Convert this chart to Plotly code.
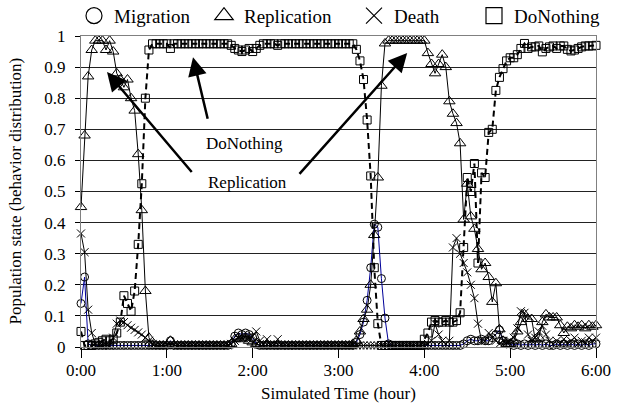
import plotly.graph_objects as go

# Sampling: one reading every 2.5 simulated minutes, 0:00 .. 6:00
step_min = 2.5
n_points = 145
time_h = [i * step_min / 60 for i in range(n_points)]

migration = [
    0.14, 0.225, 0.01, 0.005, 0.005, 0.005, 0.005, 0.005, 0.005, 0.005, 0.005, 0.005,
    0.005, 0.005, 0.005, 0.005, 0.005, 0.005, 0.005, 0.005, 0.005, 0.005, 0.005, 0.005,
    0.005, 0.02, 0.005, 0.005, 0.005, 0.005, 0.005, 0.005, 0.005, 0.005, 0.005, 0.005,
    0.005, 0.005, 0.005, 0.005, 0.005, 0.005, 0.01, 0.035, 0.045, 0.04, 0.045, 0.04,
    0.03, 0.01, 0.005, 0.005, 0.005, 0.005, 0.005, 0.005, 0.005, 0.005, 0.005, 0.005,
    0.005, 0.005, 0.005, 0.005, 0.005, 0.005, 0.005, 0.005, 0.005, 0.005, 0.005, 0.005,
    0.005, 0.005, 0.005, 0.005, 0.005, 0.015, 0.04, 0.08, 0.15, 0.255, 0.395, 0.385,
    0.22, 0.093, 0.01, 0.005, 0.005, 0.005, 0.005, 0.005, 0.005, 0.005, 0.005, 0.005,
    0.005, 0.005, 0.005, 0.005, 0.005, 0.005, 0.005, 0.005, 0.005, 0.005, 0.005, 0.01,
    0.02, 0.025, 0.02, 0.02, 0.025, 0.02, 0.02, 0.03, 0.04, 0.055, 0.02, 0.01,
    0.01, 0.005, 0.01, 0.005, 0.01, 0.005, 0.01, 0.005, 0.01, 0.005, 0.01, 0.005,
    0.005, 0.01, 0.005, 0.01, 0.005, 0.01, 0.005, 0.01, 0.005, 0.01, 0.005, 0.01,
    0.01,
]

replication = [
    0.45, 0.68, 0.87, 0.955, 0.985, 0.985, 0.985, 0.955, 0.985, 0.95, 0.88, 0.86,
    0.835, 0.86, 0.80, 0.76, 0.62, 0.44, 0.18, 0.03, 0.005, 0.005, 0.005, 0.005,
    0.005, 0.02, 0.005, 0.005, 0.005, 0.005, 0.005, 0.005, 0.005, 0.005, 0.005, 0.005,
    0.005, 0.005, 0.005, 0.005, 0.005, 0.005, 0.01, 0.025, 0.03, 0.025, 0.03, 0.02,
    0.015, 0.01, 0.005, 0.005, 0.005, 0.005, 0.005, 0.005, 0.005, 0.005, 0.005, 0.005,
    0.005, 0.005, 0.005, 0.005, 0.005, 0.005, 0.005, 0.005, 0.005, 0.005, 0.005, 0.005,
    0.005, 0.005, 0.005, 0.005, 0.01, 0.02, 0.05, 0.09, 0.12, 0.2, 0.36, 0.545,
    0.84, 0.976, 0.985, 0.985, 0.985, 0.985, 0.985, 0.985, 0.985, 0.985, 0.985, 0.985,
    0.985, 0.945, 0.91, 0.88, 0.91, 0.94, 0.90, 0.79, 0.75, 0.72, 0.655, 0.41,
    0.525, 0.42, 0.38, 0.315, 0.25, 0.27, 0.225, 0.145, 0.205, 0.057, 0.02, 0.01,
    0.01, 0.02, 0.05, 0.08, 0.105, 0.09, 0.09, 0.025, 0.03, 0.08, 0.105, 0.095,
    0.095, 0.095, 0.07, 0.045, 0.065, 0.06, 0.07, 0.065, 0.07, 0.06, 0.07, 0.065,
    0.07,
]

death = [
    0.365, 0.305, 0.12, 0.045, 0.01, 0.005, 0.005, 0.005, 0.005, 0.03, 0.075, 0.085,
    0.08, 0.07, 0.062, 0.055, 0.047, 0.04, 0.03, 0.02, 0.01, 0.005, 0.005, 0.005,
    0.005, 0.01, 0.005, 0.005, 0.005, 0.005, 0.005, 0.005, 0.005, 0.005, 0.005, 0.005,
    0.005, 0.005, 0.005, 0.005, 0.005, 0.005, 0.01, 0.02, 0.03, 0.03, 0.035, 0.03,
    0.035, 0.05, 0.02, 0.01, 0.025, 0.005, 0.005, 0.025, 0.005, 0.005, 0.005, 0.005,
    0.005, 0.005, 0.005, 0.005, 0.005, 0.005, 0.005, 0.005, 0.005, 0.005, 0.005, 0.005,
    0.005, 0.005, 0.005, 0.005, 0.005, 0.005, 0.005, 0.005, 0.005, 0.005, 0.005, 0.005,
    0.005, 0.005, 0.005, 0.005, 0.005, 0.005, 0.005, 0.005, 0.005, 0.005, 0.005, 0.005,
    0.005, 0.01, 0.02, 0.075, 0.04, 0.02, 0.01, 0.02, 0.32, 0.35, 0.30, 0.27,
    0.24, 0.20, 0.157, 0.075, 0.02, 0.02, 0.045, 0.03, 0.02, 0.01, 0.02, 0.015,
    0.02, 0.03, 0.06, 0.115, 0.11, 0.04, 0.02, 0.03, 0.05, 0.068, 0.04, 0.02,
    0.01, 0.02, 0.01, 0.025, 0.01, 0.02, 0.03, 0.01, 0.02, 0.015, 0.03, 0.02,
    0.03,
]

do_nothing = [
    0.05, 0.005, 0.005, 0.005, 0.01, 0.015, 0.02, 0.025, 0.02, 0.025, 0.045, 0.08,
    0.165, 0.14, 0.115, 0.18, 0.33, 0.525, 0.80, 0.955, 0.975, 0.975, 0.975, 0.975,
    0.975, 0.96, 0.975, 0.975, 0.975, 0.975, 0.975, 0.975, 0.975, 0.975, 0.975, 0.975,
    0.975, 0.975, 0.975, 0.975, 0.975, 0.975, 0.97, 0.96, 0.955, 0.95, 0.955, 0.96,
    0.95, 0.96, 0.97, 0.975, 0.975, 0.975, 0.975, 0.97, 0.975, 0.975, 0.975, 0.975,
    0.975, 0.975, 0.975, 0.975, 0.975, 0.975, 0.975, 0.975, 0.975, 0.975, 0.975, 0.975,
    0.975, 0.975, 0.975, 0.975, 0.975, 0.957, 0.92, 0.86, 0.73, 0.55, 0.255, 0.075,
    0.005, 0.005, 0.005, 0.005, 0.005, 0.005, 0.005, 0.005, 0.005, 0.005, 0.005, 0.005,
    0.025, 0.045, 0.08, 0.085, 0.08, 0.08, 0.085, 0.08, 0.08, 0.085, 0.11, 0.32,
    0.545, 0.50, 0.59, 0.27, 0.56, 0.545, 0.69, 0.70, 0.825, 0.867, 0.895, 0.92,
    0.93, 0.93, 0.94, 0.96, 0.976, 0.96, 0.965, 0.965, 0.968, 0.949, 0.96, 0.965,
    0.968, 0.96, 0.968, 0.968, 0.957, 0.952, 0.955, 0.96, 0.965, 0.968, 0.968, 0.968,
    0.97,
]

x_tick_vals = [0, 1, 2, 3, 4, 5, 6]
x_tick_text = ["0:00", "1:00", "2:00", "3:00", "4:00", "5:00", "6:00"]
y_tick_vals = [0, 0.1, 0.2, 0.3, 0.4, 0.5, 0.6, 0.7, 0.8, 0.9, 1]
y_tick_text = ["0", "0.1", "0.2", "0.3", "0.4", "0.5", "0.6", "0.7", "0.8", "0.9", "1"]

FONT = "serif"
FS = 17

series = [
    ("Migration", migration, "circle-open", 8, dict(color="#000099", width=1)),
    ("Replication", replication, "triangle-up-open", 10, dict(color="black", width=1)),
    ("Death", death, "x-thin-open", 8, dict(color="black", width=1)),
    ("DoNothing", do_nothing, "square-open", 8, dict(color="black", width=2, dash="6px,4px")),
]
# legend symbol centre (px from left of figure) for each series
legend_px = [93, 223, 373, 493]
legend_ids = ["legend", "legend2", "legend3", "legend4"]

fig = go.Figure()
for name, vals, sym, size, line in series:
    fig.add_trace(go.Scatter(
        x=time_h, y=vals, mode="lines+markers", name=name, showlegend=False,
        line=line, cliponaxis=False,
        marker=dict(symbol=sym, size=size, color="black", line=dict(color="black", width=1)),
    ))
for (name, vals, sym, size, line), lid in zip(series, legend_ids):
    fig.add_trace(go.Scatter(
        x=[None], y=[None], mode="markers", name=name, showlegend=True, legend=lid,
        marker=dict(symbol=sym, size=16, color="black", line=dict(color="black", width=1.2)),
    ))

arrows = [
    # (head_x, head_y, tail_x, tail_y)
    (0.303, 0.884, 1.305, 0.558),
    (1.305, 0.932, 1.48, 0.729),
    (3.80, 0.945, 2.53, 0.552),
]
for hx, hy, tx, ty in arrows:
    fig.add_annotation(x=hx, y=hy, ax=tx, ay=ty, xref="x", yref="y", axref="x", ayref="y",
                       text="", showarrow=True, arrowhead=2, arrowsize=1.5, arrowwidth=2.5,
                       arrowcolor="black")

fig.add_annotation(x=1.91, y=0.655, xref="x", yref="y", text="DoNothing", showarrow=False,
                   font=dict(family=FONT, size=FS, color="black"))
fig.add_annotation(x=1.935, y=0.529, xref="x", yref="y", text="Replication", showarrow=False,
                   font=dict(family=FONT, size=FS, color="black"))

fig.add_annotation(x=0, y=0.5, xref="paper", yref="paper", xshift=-66, xanchor="center",
                   yanchor="middle", text="Population state (behavior distribution)",
                   textangle=-90, showarrow=False,
                   font=dict(family=FONT, size=FS, color="black"))
fig.add_annotation(x=0.5, y=0, xref="paper", yref="paper", yshift=-46, xanchor="center",
                   yanchor="middle", text="Simulated Time (hour)", showarrow=False,
                   font=dict(family=FONT, size=FS, color="black"))

PLOT_L, PLOT_W = 81, 515
legend_layout = {}
for lid, cx in zip(legend_ids, legend_px):
    legend_layout[lid] = dict(
        orientation="h", x=(cx - 19 - PLOT_L) / PLOT_W, xanchor="left",
        y=1.065, yanchor="middle", bgcolor="rgba(0,0,0,0)", itemwidth=30,
        font=dict(family=FONT, size=FS + 2, color="black"),
    )

fig.update_layout(
    width=621, height=406,
    margin=dict(l=PLOT_L, r=621 - PLOT_L - PLOT_W, t=36, b=59, autoexpand=False),
    paper_bgcolor="white", plot_bgcolor="white",
    font=dict(family=FONT, size=FS, color="black"),
    xaxis=dict(range=[0, 6], tickvals=x_tick_vals, ticktext=x_tick_text,
               showgrid=False, zeroline=False, showline=True, linecolor="#808080",
               linewidth=1, mirror=True, ticks="", automargin=False, ticklabelstandoff=8,
               tickfont=dict(family=FONT, size=FS)),
    xaxis2=dict(range=[0, 6], overlaying="x", matches="x", anchor="y", side="bottom",
                tickvals=x_tick_vals, showticklabels=False, showgrid=False, zeroline=False,
                ticks="outside", ticklen=10, tickcolor="black", automargin=False),
    yaxis=dict(range=[0, 1], tickvals=y_tick_vals, ticktext=y_tick_text,
               showgrid=True, gridcolor="#222222", gridwidth=1, zeroline=False,
               showline=True, linecolor="#808080", linewidth=1, mirror=True,
               ticks="outside", ticklen=5, tickcolor="black", ticklabelstandoff=6,
               automargin=False, tickfont=dict(family=FONT, size=FS)),
    **legend_layout,
)
# dummy trace so xaxis2 is drawn
fig.add_trace(go.Scatter(x=[None], y=[None], xaxis="x2", yaxis="y", showlegend=False))

fig.write_html("out.html", config={"displayModeBar": False},
               post_script="document.body.style.margin='0px';")
